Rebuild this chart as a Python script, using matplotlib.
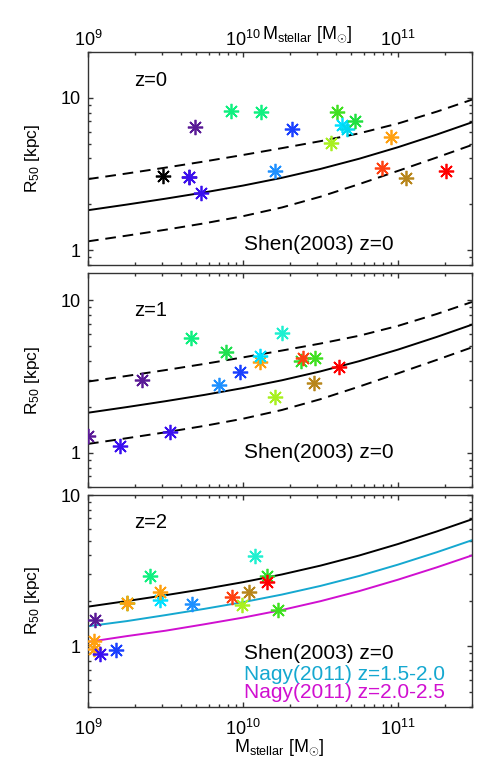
import numpy as np
import matplotlib
matplotlib.use("Agg")
import matplotlib.pyplot as plt
from matplotlib.ticker import FixedLocator, FixedFormatter, LogLocator, NullFormatter

plt.rcParams['font.family'] = ['Liberation Sans', 'DejaVu Sans']
plt.rcParams['mathtext.fontset'] = 'custom'
plt.rcParams['mathtext.rm'] = 'Liberation Sans'
plt.rcParams['mathtext.it'] = 'Liberation Sans:italic'
plt.rcParams['mathtext.bf'] = 'Liberation Sans:bold'

# ---- relation curves ----
curve_mass = [1.0e9, 1.78e9, 3.16e9, 5.62e9, 1.0e10, 1.78e10, 3.16e10, 5.62e10, 1.0e11, 1.78e11, 3.0e11]
shen_r50 = [1.831, 1.994, 2.179, 2.395, 2.657, 2.987, 3.417, 3.987, 4.746, 5.747, 6.912]
shen_upper = [2.929, 3.190, 3.484, 3.823, 4.219, 4.677, 5.199, 5.850, 6.788, 8.124, 9.732]
shen_lower = [1.144, 1.247, 1.363, 1.501, 1.673, 1.908, 2.246, 2.717, 3.318, 4.065, 4.909]
nagy_15_20 = [1.36, 1.47, 1.61, 1.77, 1.96, 2.20, 2.51, 2.92, 3.47, 4.19, 5.03]
nagy_20_25 = [1.07, 1.17, 1.27, 1.40, 1.55, 1.74, 1.99, 2.32, 2.76, 3.33, 3.99]

# ---- simulated galaxies ----
z0_mass = [3.05e9, 4.45e9, 4.5e9, 4.87e9, 5.38e9, 8.4e9, 1.30e10, 2.07e10, 1.62e10,
           4.04e10, 3.72e10, 4.33e10, 4.72e10, 5.29e10, 8.98e10, 7.92e10, 1.13e11, 2.03e11]
z0_r50 = [3.08, 3.03, 3.03, 6.44, 2.39, 8.25, 8.04, 6.25, 3.32,
          8.04, 5.02, 6.67, 6.25, 7.02, 5.50, 3.44, 3.00, 3.32]
z0_color = ['#000000', '#5a1a96', '#3a10f0', '#5a1a96', '#3a10f0', '#10f080', '#10f080', '#1a40ff', '#1e90ff',
            '#40e020', '#a8f020', '#00e0ff', '#00d8f0', '#20e040', '#ffa010', '#ff4010', '#b8861b', '#ff0000']

z1_mass = [1.0e9, 1.61e9, 2.22e9, 3.40e9, 4.64e9, 6.97e9, 7.81e9, 9.62e9, 1.29e10, 1.29e10,
           1.78e10, 1.60e10, 2.38e10, 2.43e10, 2.92e10, 2.85e10, 4.15e10]
z1_r50 = [1.285, 1.106, 3.02, 1.373, 5.69, 2.77, 4.59, 3.39, 3.95, 4.30,
          6.14, 2.33, 3.98, 4.21, 4.21, 2.87, 3.66]
z1_color = ['#5a1a96', '#3a10f0', '#5a1a96', '#3a10f0', '#10f080', '#1e90ff', '#20e050', '#1a40ff', '#ffa010', '#00e0ff',
            '#20f0d0', '#a8f020', '#30e030', '#ff4010', '#40e020', '#b8861b', '#ff0000']

z2_mass = [1.11e9, 1.10e9, 1.10e9, 1.19e9, 1.51e9, 1.79e9, 1.79e9, 2.51e9, 2.91e9, 2.91e9,
           4.70e9, 8.50e9, 1.09e10, 9.9e9, 1.19e10, 1.43e10, 1.43e10, 1.68e10]
z2_r50 = [1.49, 1.08, 0.96, 0.894, 0.95, 1.94, 1.93, 2.94, 2.04, 2.28,
          1.92, 2.13, 2.28, 1.89, 3.96, 2.94, 2.67, 1.73]
z2_color = ['#5a1a96', '#ffa010', '#ffa010', '#3a10f0', '#1a40ff', '#30e030', '#ffa010', '#10f080', '#00e0ff', '#ffa010',
            '#1e90ff', '#ff4010', '#b8861b', '#a8f020', '#20f0d0', '#30e030', '#ff0000', '#40e020']

panel_label = ['z=0', 'z=1', 'z=2']
panel_ylim = [(0.8, 20.0), (0.6, 15.0), (0.4, 10.0)]
xlim = (1.0e9, 3.0e11)
x_ticks = [1e9, 1e10, 1e11]
x_ticklabels = [r'$10^{9}$', r'$10^{10}$', r'$10^{11}$']
y_ticks = [1, 10]
y_ticklabels = ['1', '10']

fig = plt.figure(figsize=(4.91, 7.61), dpi=100)
W, H = 491.0, 761.0
left, right = 88 / W, 472 / W
panels_px = [(52, 265), (273.3, 486.7), (495, 706.7)]
label_y = [0.868, 0.827, 0.868]
shen_y = [0.094, 0.158]
axes = []
for (t, b) in panels_px:
    ax = fig.add_axes([left, 1 - b / H, right - left, (b - t) / H])
    axes.append(ax)

frame_col = '#333333'
for i, ax in enumerate(axes):
    ax.set_xscale('log')
    ax.set_yscale('log')
    ax.set_xlim(*xlim)
    ax.set_ylim(*panel_ylim[i])
    for s in ax.spines.values():
        s.set_color(frame_col)
        s.set_linewidth(1.0)
    ax.xaxis.set_major_locator(FixedLocator(x_ticks))
    ax.xaxis.set_minor_locator(LogLocator(base=10, subs=np.arange(2, 10)))
    ax.yaxis.set_major_locator(FixedLocator(y_ticks))
    ax.yaxis.set_major_formatter(FixedFormatter(y_ticklabels))
    ax.yaxis.set_minor_locator(LogLocator(base=10, subs=np.arange(2, 10)))
    ax.yaxis.set_minor_formatter(NullFormatter())
    ax.xaxis.set_minor_formatter(NullFormatter())
    ax.tick_params(which='both', direction='in', top=True, right=True, colors=frame_col,
                   labelcolor='black', labelsize=13)
    ax.tick_params(which='major', length=3.8, width=1.0)
    ax.tick_params(which='minor', length=2.2, width=1.0)
    ax.tick_params(axis='y', which='major', pad=5)
    if i == 2:
        ax.xaxis.set_major_formatter(FixedFormatter(x_ticklabels))
        ax.tick_params(axis='x', which='major', pad=9)
    else:
        ax.xaxis.set_major_formatter(NullFormatter())
    if i == 0:
        ax.tick_params(axis='x', which='major', labeltop=True, labelbottom=False, pad=1.5)
        ax.xaxis.set_major_formatter(FixedFormatter(x_ticklabels))
    ax.set_ylabel(r'R$_{50}$ [kpc]', fontsize=12.5)
    ax.yaxis.set_label_coords(-0.12, 0.5)
    ax.text(0.12, label_y[i], panel_label[i], transform=ax.transAxes, fontsize=14.5,
            ha='left', va='center')

    ax.plot(curve_mass, shen_r50, color='black', lw=1.4)

for i, ax in enumerate(axes[:2]):
    ax.plot(curve_mass, shen_upper, color='black', lw=1.4, dashes=(5.5, 3.5))
    ax.plot(curve_mass, shen_lower, color='black', lw=1.4, dashes=(5.5, 3.5))
    ax.text(0.405, shen_y[i], 'Shen(2003) z=0', transform=ax.transAxes, fontsize=15,
            ha='left', va='center')

axes[2].plot(curve_mass, nagy_15_20, color='#15a8d0', lw=1.4)
axes[2].plot(curve_mass, nagy_20_25, color='#d010d0', lw=1.4)
axes[2].text(0.405, 0.249, 'Shen(2003) z=0', transform=axes[2].transAxes, fontsize=15, color='black', va='center')
axes[2].text(0.405, 0.154, 'Nagy(2011) z=1.5-2.0', transform=axes[2].transAxes, fontsize=15, color='#15a8d0', va='center')
axes[2].text(0.405, 0.065, 'Nagy(2011) z=2.0-2.5', transform=axes[2].transAxes, fontsize=15, color='#d010d0', va='center')

star = (8, 2, 0)
for ax, ms_, rs_, cs_ in zip(axes, [z0_mass, z1_mass, z2_mass], [z0_r50, z1_r50, z2_r50],
                             [z0_color, z1_color, z2_color]):
    for m, r, c in zip(ms_, rs_, cs_):
        ax.plot([m], [r], linestyle='none', marker=star, ms=11, mew=1.25, color=c, zorder=3)

xlabel = r'M$_{\rm stellar}$ [M$_{\odot}$]'
fig.text(279 / W, 1 - 752 / H, xlabel, fontsize=13, ha='center', va='baseline')
fig.text(307.5 / W, 1 - 39 / H, xlabel, fontsize=13, ha='center', va='baseline')

fig.savefig('out.png', dpi=100)
